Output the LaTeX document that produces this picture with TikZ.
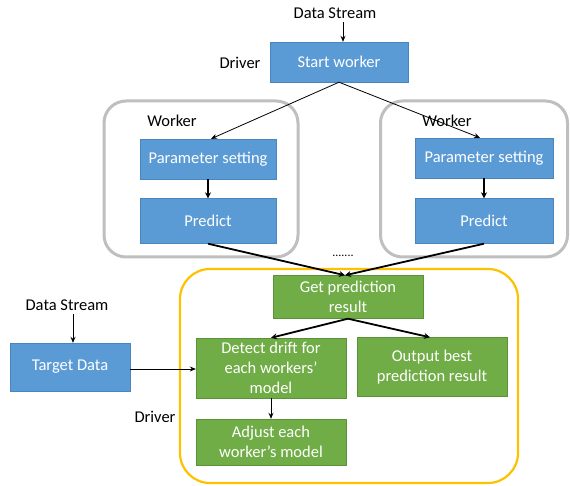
\documentclass[tikz,border=0pt]{standalone}
\usepackage{fontspec}
\setmainfont{Carlito}
\usetikzlibrary{arrows.meta}

\definecolor{taskblue}{HTML}{5B9BD5}
\definecolor{taskblueline}{HTML}{4A86BE}
\definecolor{taskgreen}{HTML}{70AD47}
\definecolor{taskgreenline}{HTML}{5A9237}
\definecolor{workergray}{HTML}{BFBFBF}
\definecolor{driverorange}{HTML}{FFC000}

\tikzset{
  txt/.style={font=\fontsize{16.5}{20}\selectfont},
  bluetask/.style={txt, draw=taskblueline, fill=taskblue, text=white, inner sep=0pt, align=center},
  greentask/.style={txt, draw=taskgreenline, fill=taskgreen, text=white, inner sep=0pt, align=center,
    minimum width=150pt},
  workerbox/.style={draw=workergray, line width=3pt, rounded corners=22pt, inner sep=0pt},
  driverbox/.style={draw=driverorange, line width=2.2pt, rounded corners=30pt, inner sep=0pt},
  flow/.style={-{Stealth[length=6pt,width=5pt]}, line width=0.8pt},
  bigflow/.style={-{Stealth[length=6pt,width=6pt]}, line width=1.8pt},
}

\begin{document}
\begin{tikzpicture}[x=1pt,y=-1pt]
    \useasboundingbox (0,0) rectangle (570,486);
    % Worker and driver frames
    \node[workerbox, minimum width=194pt, minimum height=156pt] (leftframe) at (201,179) {};
    \node[workerbox, minimum width=187pt, minimum height=156pt] (rightframe) at (474,179) {};
    \node[driverbox, minimum width=338pt, minimum height=214pt] (driverframe) at (349,376) {};
    % Start of the run
    \node[txt] (streamtop) at (335,13) {Data Stream};
    \node[bluetask, minimum width=138pt, minimum height=40pt] (start) at (339,62) {Start worker};
    \node[txt] (drivertop) at (240,63) {Driver};
    % Left worker
    \node[txt] (workerleft) at (172,121) {Worker};
    \node[bluetask, minimum width=136pt, minimum height=40pt] (paramleft) at (208,159) {Parameter setting};
    \node[bluetask, minimum width=136pt, minimum height=45pt] (predleft) at (208,221) {Predict};
    % Right worker
    \node[txt] (workerright) at (447,121) {Worker};
    \node[bluetask, minimum width=138pt, minimum height=40pt] (paramright) at (484,158) {Parameter setting};
    \node[bluetask, minimum width=138pt, minimum height=45pt] (predright) at (484,221) {Predict};
    \node[font=\fontsize{12}{12}\selectfont] (dots) at (343,256) {.......};
    % Driver side
    \node[greentask, minimum height=43pt] (getres) at (348,297) {Get prediction\\result};
    \node[greentask, minimum height=60pt] (detect) at (271,368) {Detect drift for\\each workers'\\model};
    \node[greentask, minimum height=59pt] (output) at (432,367) {Output best\\prediction result};
    \node[greentask, minimum height=46pt] (adjust) at (271,442) {Adjust each\\worker's model};
    \node[txt] (driverlow) at (155,417) {Driver};
    % Target data
    \node[txt] (streamleft) at (67,305) {Data Stream};
    \node[bluetask, minimum width=120pt, minimum height=48pt] (target) at (70,367) {Target Data};
    % Connectors
    \draw[flow] (streamtop.south -| start.north) ++(4,0) coordinate (instart) -- (instart |- start.north);
    \draw[flow] (start.south) -- ([xshift=3pt]paramleft.north);
    \draw[flow] (start.south) -- ([xshift=-4pt]paramright.north);
    \draw[bigflow] (paramleft) -- (predleft);
    \draw[bigflow] (paramright) -- (predright);
    \draw[bigflow] (predleft.south) -- ([xshift=-3pt]getres.north);
    \draw[bigflow] (predright.south) -- ([xshift=-3pt]getres.north);
    \draw[bigflow] (getres.south) -- (detect.north);
    \draw[bigflow] (getres.south) -- ([xshift=-2pt]output.north);
    \draw[flow] (detect) -- (adjust);
    \draw[flow] (streamleft.south -| target.north) ++(3,0) coordinate (intarget) -- (intarget |- target.north);
    \draw[flow] (target.east |- detect.west) ++(0,1) coordinate (outtarget) -- (outtarget -| detect.west);
\end{tikzpicture}
\end{document}
